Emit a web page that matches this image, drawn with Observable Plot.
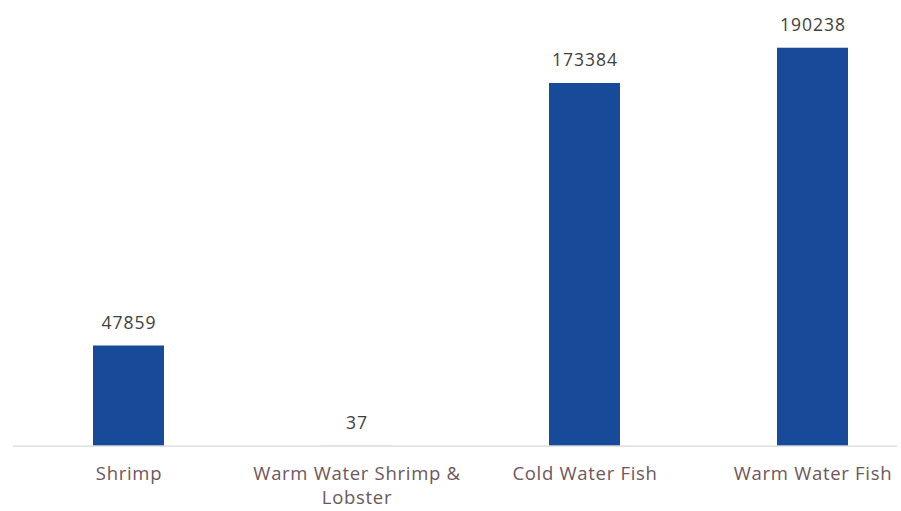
<!DOCTYPE html>
<html>
<head>
<meta charset="utf-8">
<script src="https://cdn.jsdelivr.net/npm/d3@7"></script>
<script src="https://cdn.jsdelivr.net/npm/@observablehq/plot@0.6"></script>
<style>
  html, body { margin: 0; padding: 0; background: #ffffff; }
  #chart svg { display: block; overflow: visible; }
  #chart svg text { letter-spacing: 0.7px; }
  #chart svg .values text { letter-spacing: 1px; }
</style>
</head>
<body>
<div id="chart"></div>
<script>
const categories = ["Shrimp", "Warm Water Shrimp & Lobster", "Cold Water Fish", "Warm Water Fish"];
const values = [47859, 37, 173384, 190238];
const tickLabels = ["Shrimp", "Warm Water Shrimp &\nLobster", "Cold Water Fish", "Warm Water Fish"];

const data = categories.map((c, i) => ({category: c, value: values[i]}));
const labelOf = new Map(categories.map((c, i) => [c, tickLabels[i]]));

const chart = Plot.plot({
  width: 901,
  height: 511,
  marginLeft: 13,
  marginRight: 4,
  marginTop: 27.3,
  marginBottom: 65.4,
  style: {fontFamily: "'Open Sans', sans-serif", background: "#ffffff", overflow: "visible"},
  x: {domain: categories, range: [13, 927], paddingInner: 0.69, paddingOuter: 0.345, axis: null},
  y: {domain: [0, 200000], axis: null},
  marks: [
    Plot.barY(data, {x: "category", y: "value", fill: "#174a98"}),
    Plot.ruleY([0], {stroke: "#d9d9d9", strokeWidth: 1.2}),
    Plot.text(data, {x: "category", y: "value", text: d => String(d.value), dy: -23, fill: "#404040", fontSize: 17.5, className: "values"}),
    Plot.axisX({domain: categories, label: null, tickSize: 0, tickPadding: 17, tickFormat: c => labelOf.get(c), fill: "#6e565c", fontSize: 18.5, lineHeight: 1.3, textAnchor: "middle"})
  ]
});
document.getElementById("chart").append(chart);
</script>
</body>
</html>
